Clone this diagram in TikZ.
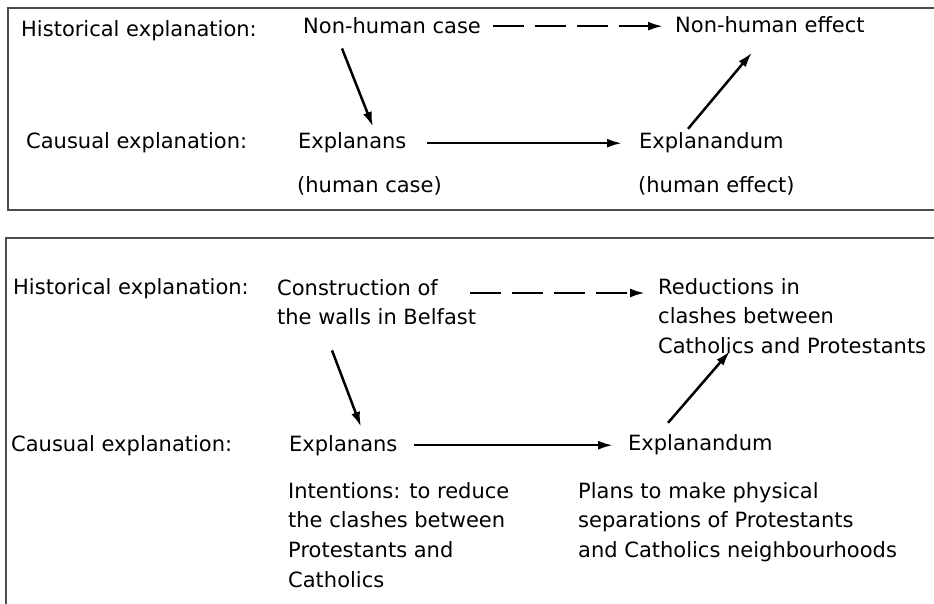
\documentclass[tikz,border=0pt]{standalone}
\usepackage{fontspec}
\setmainfont{DejaVu Sans}
\usetikzlibrary{arrows.meta}

\begin{document}
\begin{tikzpicture}[x=1pt, y=-1pt,
    lbl/.style={anchor=base west, inner sep=0pt, align=left,
      font=\fontsize{21}{29.7}\selectfont},
    frame/.style={draw=black!70, line width=1.4pt},
    arr/.style={line width=2.5pt, -{Latex[length=15pt,width=9pt]}},
    dasharr/.style={arr, dash pattern=on 31pt off 11pt}]
  \useasboundingbox (0,0) rectangle (934,604);
      % upper frame
      \draw[frame](934, 8) -- (8, 8) -- (8, 210) -- (934, 210);
      \node[lbl] (hist1) at (21, 37){Historical explanation:};
      \node[lbl] (caus1) at (26, 149){Causual explanation:};
      \node[lbl] (case) at (303, 34){Non-human case};
      \node[lbl] (effect) at (675, 33){Non-human effect};
      \node[lbl] (explans1) at (298, 149){Explanans};
      \node[lbl] (explandum1) at (639, 149){Explanandum};
      \node[lbl] (hcase) at (297, 193){(human case)};
      \node[lbl] (heffect) at (638, 193){(human effect)};
      \draw[dasharr, shorten <=12pt, shorten >=12pt](case.east) to (case.east -| effect.west);
      \draw[arr]([shift={(39,14)}]case.south west) to ([shift={(75,-6)}]explans1.north west);
      \draw[arr, shorten <=20pt, shorten >=17pt](explans1.east) to (explans1.east -| explandum1.west);
      \draw[arr]([shift={(49,-4)}]explandum1.north west) to ([shift={(77,19)}]effect.south west);

      % lower frame
      \draw[frame](934, 238) -- (6, 238) -- (6, 604);
      \node[lbl] (hist2) at (13, 294){Historical explanation:};
      \node[lbl] (caus2) at (11, 451){Causual explanation:};
      \node[lbl, anchor=north west] (walls) at (277, 279){Construction of\\the walls in Belfast};
      \node[lbl, anchor=north west] (reduct) at (658, 278){Reductions in\\clashes between\\Catholics and Protestants};
      \node[lbl] (explans2) at (289, 451){Explanans};
      \node[lbl] (explandum2) at (628, 450){Explanandum};
      \node[lbl, anchor=north west] (intent) at (288, 482){Intentions: to reduce\\the clashes between\\Protestants and\\Catholics};
      \node[lbl, anchor=north west] (plans) at (578, 482){Plans to make physical\\separations of Protestants\\and Catholics neighbourhoods};
      \draw[dasharr]([shift={(-6,14)}]walls.north east) to ([shift={(-13,15)}]reduct.north west);
      \draw[arr]([shift={(55,25)}]walls.south west) to ([shift={(72,-8)}]explans2.north west);
      \draw[arr, shorten <=16pt, shorten >=15pt](explans2.east) to (explans2.east -| explandum2.west);
      \draw[arr]([shift={(40,-11)}]explandum2.north west) to ([shift={(72,-3)}]reduct.south west);
    \end{tikzpicture}
\end{document}
